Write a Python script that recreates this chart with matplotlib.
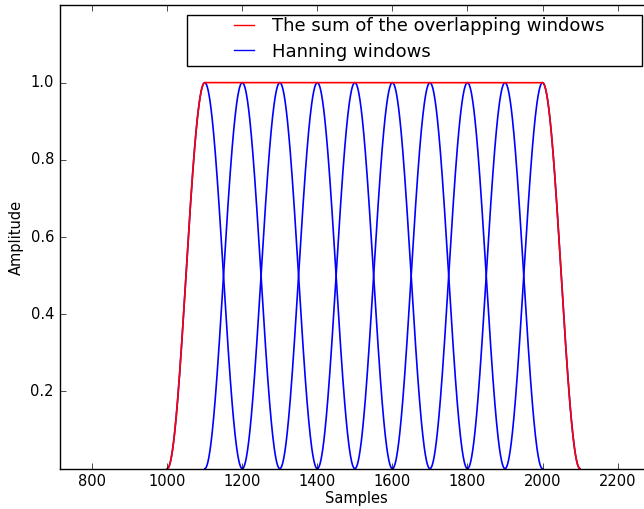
import matplotlib
matplotlib.use("Agg")
import matplotlib.pyplot as plt
from matplotlib.patches import Rectangle
import numpy as np

plt.style.use("classic")
plt.rcParams["font.family"] = ["DejaVu Sans"]
plt.rcParams["font.size"] = 10.5

# window setup
window_length = 200
window_starts = [1000, 1100, 1200, 1300, 1400, 1500, 1600, 1700, 1800, 1900]
x_ticks = [800, 1000, 1200, 1400, 1600, 1800, 2000, 2200]
y_ticks = [0.2, 0.4, 0.6, 0.8, 1.0]

win = np.hanning(window_length + 1)
n_total = window_starts[-1] + window_length + 1
total = np.zeros(n_total)

fig = plt.figure(figsize=(6.44, 5.09), dpi=100)
ax = fig.add_axes([0.0924, 0.0792, 0.9231, 0.9102])

blue_line = None
for s in window_starts:
    xs = np.arange(s, s + window_length + 1)
    blue_line, = ax.plot(xs, win, color="b", linewidth=1.2)
    total[s:s + window_length + 1] += win

xs_sum = np.arange(window_starts[0], n_total)
red_line, = ax.plot(xs_sum, total[window_starts[0]:], color="r", linewidth=1.2)

# legend frame drawn separately so the box matches the old wide layout
ax.add_patch(Rectangle((0.2145, 0.8692), 0.7648, 0.1107, transform=ax.transAxes,
                       facecolor="white", edgecolor="black", linewidth=1.0,
                       zorder=5))
leg = ax.legend([red_line, blue_line],
                ["The sum of the overlapping windows", "Hanning windows"],
                loc="upper left", bbox_to_anchor=(0.2839, 0.9739),
                frameon=False, borderpad=0, borderaxespad=0,
                handlelength=1.72, handletextpad=0.68, labelspacing=0.4,
                fontsize=13)
leg.set_zorder(6)
for h in leg.legend_handles:
    h.set_linewidth(1.0)

ax.set_xlim(713, 2297)
ax.set_ylim(0, 1.2)
ax.set_xticks(x_ticks)
ax.set_yticks(y_ticks)
ax.set_xlabel("Samples", labelpad=1)
ax.set_ylabel("Amplitude")

fig.savefig("out.png", dpi=100)
